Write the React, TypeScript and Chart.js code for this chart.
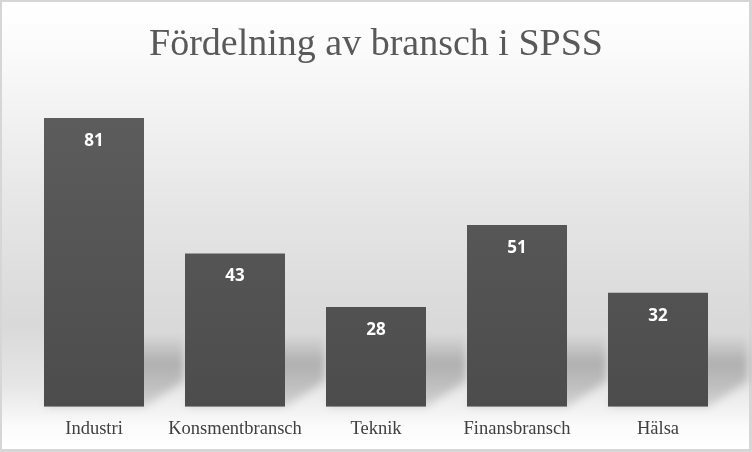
import React, { useEffect, useRef } from "react";
import { Chart, registerables } from "chart.js";

Chart.register(...registerables);

const categories = ["Industri", "Konsmentbransch", "Teknik", "Finansbransch", "Hälsa"];
const counts = [81, 43, 28, 51, 32];
const titleText = "Fördelning av bransch i SPSS";

const W = 752;
const H = 452;

const backgroundPlugin = {
  id: "bgFrame",
  beforeDraw(chart: any) {
    const ctx = chart.ctx as CanvasRenderingContext2D;
    ctx.save();
    ctx.fillStyle = "#d6d6d6";
    ctx.fillRect(0, 0, W, H);
    const g = ctx.createLinearGradient(0, 2, 0, H - 3);
    g.addColorStop(0, "#ffffff");
    g.addColorStop(0.1, "#fbfbfb");
    g.addColorStop(0.45, "#e6e6e6");
    g.addColorStop(0.72, "#d9d9d9");
    g.addColorStop(0.86, "#e6e6e6");
    g.addColorStop(0.95, "#fbfbfb");
    g.addColorStop(1, "#ffffff");
    ctx.fillStyle = g;
    ctx.fillRect(2, 2, W - 5, H - 5);
    ctx.restore();
  },
  beforeDatasetsDraw(chart: any) {
    const ctx = chart.ctx as CanvasRenderingContext2D;
    const meta = chart.getDatasetMeta(0);
    ctx.save();
    ctx.filter = "blur(4px)";
    meta.data.forEach((bar: any) => {
      const left = bar.x - bar.width / 2;
      const right = bar.x + bar.width / 2;
      const bottom = bar.base;
      const dx = 40;
      const dy = 26;
      const h = 48;
      const g = ctx.createLinearGradient(0, bottom - dy - h, 0, bottom);
      g.addColorStop(0, "rgba(0,0,0,0)");
      g.addColorStop(0.4, "rgba(0,0,0,0.22)");
      g.addColorStop(1, "rgba(0,0,0,0.12)");
      ctx.fillStyle = g;
      ctx.beginPath();
      ctx.moveTo(left, bottom);
      ctx.lineTo(right, bottom);
      ctx.lineTo(right + dx, bottom - dy);
      ctx.lineTo(right + dx, bottom - dy - h);
      ctx.lineTo(left + dx, bottom - dy - h);
      ctx.closePath();
      ctx.fill();
    });
    ctx.restore();
  },
  afterDatasetsDraw(chart: any) {
    const ctx = chart.ctx as CanvasRenderingContext2D;
    const meta = chart.getDatasetMeta(0);
    ctx.save();
    ctx.fillStyle = "#ffffff";
    ctx.font = "bold 17px 'Open Sans', 'DejaVu Sans', sans-serif";
    ctx.textAlign = "center";
    ctx.textBaseline = "middle";
    meta.data.forEach((bar: any, i: number) => {
      ctx.fillText(String(counts[i]), bar.x, bar.y + 23);
    });
    ctx.restore();
  },
};

export default function App() {
  const ref = useRef<HTMLCanvasElement | null>(null);
  useEffect(() => {
    if (!ref.current) return;
    const chart = new Chart(ref.current, {
      type: "bar",
      data: {
        labels: categories,
        datasets: [
          {
            data: counts,
            backgroundColor: (c: any) => {
              const { ctx, chartArea } = c.chart;
              if (!chartArea) return "#555555";
              const g = ctx.createLinearGradient(0, chartArea.top, 0, chartArea.bottom);
              g.addColorStop(0, "#5e5e5e");
              g.addColorStop(1, "#4c4c4c");
              return g;
            },
            borderWidth: 0,
            barPercentage: 100 / 141,
            categoryPercentage: 1,
          },
        ],
      },
      options: {
        responsive: false,
        animation: false,
        devicePixelRatio: 1,
        layout: { padding: { left: 23.5, right: 23.5, top: 22, bottom: 1 } },
        plugins: {
          legend: { display: false },
          tooltip: { enabled: false },
          title: {
            display: true,
            text: titleText,
            color: "#595959",
            font: { family: "'Liberation Serif', serif", size: 38, weight: "normal" },
            padding: { top: 0, bottom: 18.4 },
          },
        },
        scales: {
          x: {
            grid: { display: false, drawTicks: false },
            border: { display: false },
            ticks: {
              color: "#404040",
              padding: 11,
              font: { family: "'Liberation Serif', serif", size: 18.5 },
            },
          },
          y: {
            display: false,
            min: 0,
            max: 90,
          },
        },
      },
      plugins: [backgroundPlugin],
    });
    return () => chart.destroy();
  }, []);
  return (
    <div style={{ position: "fixed", left: 0, top: 0, width: W, height: H }}>
      <canvas ref={ref} width={W} height={H} style={{ display: "block" }} />
    </div>
  );
}
